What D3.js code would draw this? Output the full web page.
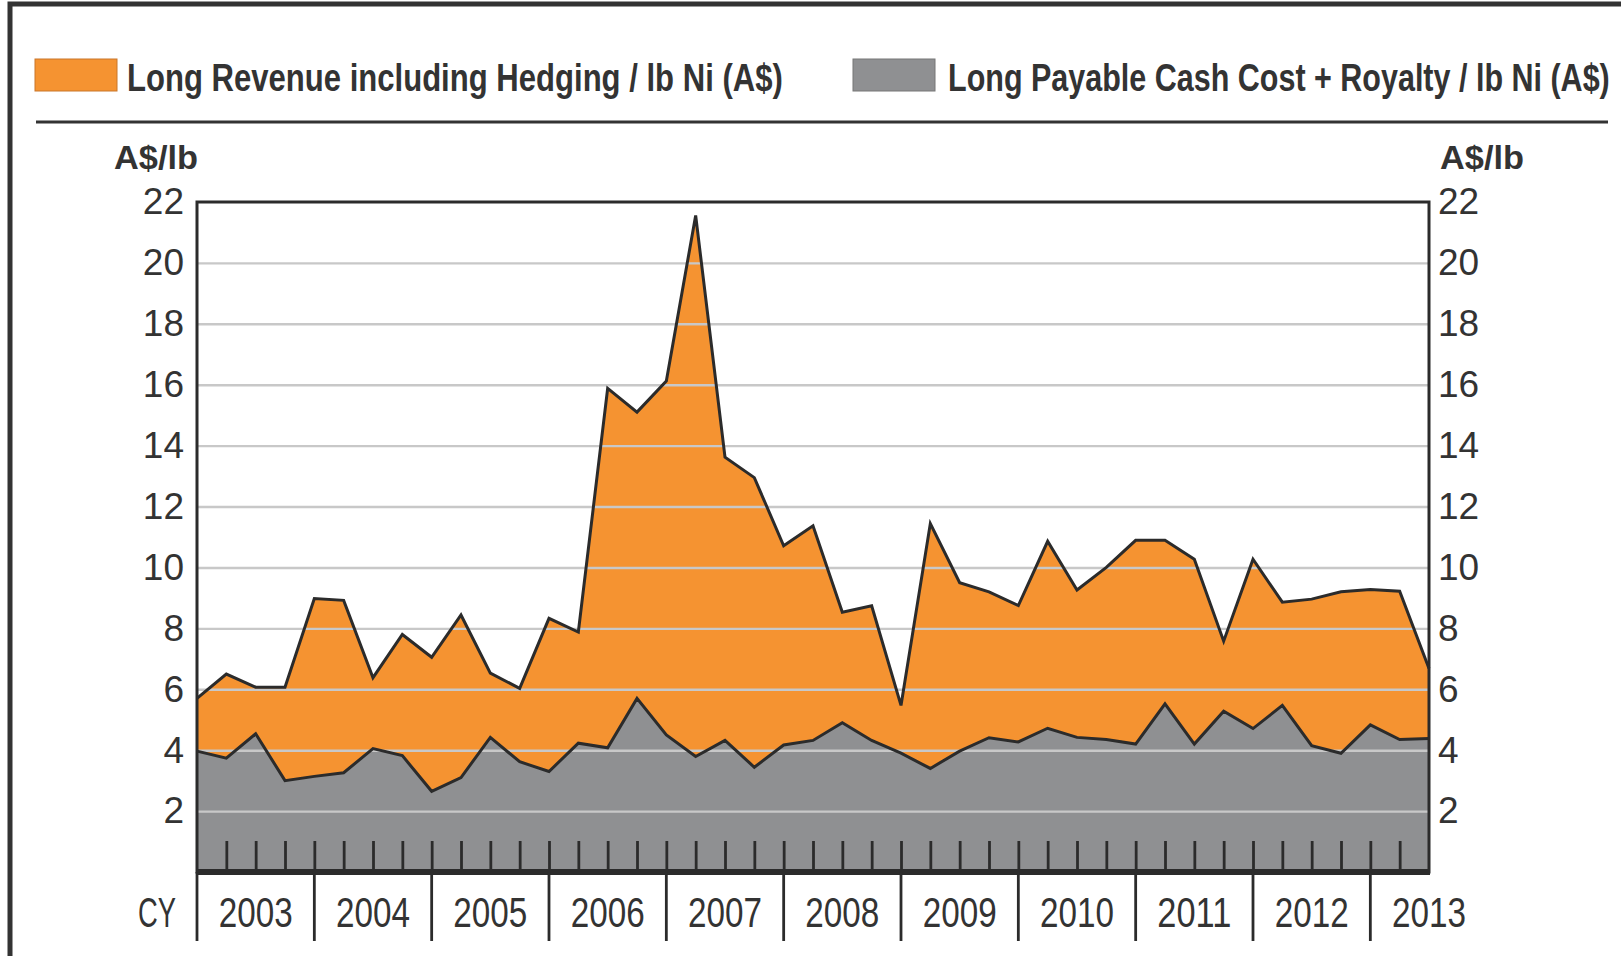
<!DOCTYPE html>
<html lang="en">
<head>
    <meta charset="UTF-8">
    <title>Long Revenue vs Cash Cost</title>
    <style>
        body { margin: 0; background: #fff; }
        svg { display: block; }
        .tick-num { font-family: "Liberation Sans", Arial, sans-serif; font-size: 37px; fill: #333; }
        .narrow { font-family: "Liberation Sans Narrow", "Liberation Sans", Arial, sans-serif; }
    </style>
    <script src="https://cdnjs.cloudflare.com/ajax/libs/d3/7.8.5/d3.min.js"></script>
</head>
<body>
    <div id="chart"></div>
    <script>
        // quarterly points, CY2003 Q1 .. CY2013 mid-year
        const years = ['2003', '2004', '2005', '2006', '2007', '2008', '2009', '2010', '2011', '2012', '2013'];
        const revenue = [
            5.7, 6.5, 6.07, 6.07, 8.98, 8.92, 6.38, 7.8, 7.05, 8.44,
            6.53, 6.03, 8.33, 7.88, 15.88, 15.1, 16.12, 21.56, 13.62, 12.95,
            10.71, 11.37, 8.53, 8.74, 5.47, 11.44, 9.5, 9.2, 8.75, 10.86,
            9.26, 10.0, 10.89, 10.89, 10.27, 7.58, 10.27, 8.86, 8.96, 9.2,
            9.28, 9.22, 6.68
        ];
        const cost = [
            3.97, 3.74, 4.54, 3.0, 3.14, 3.26, 4.05, 3.82, 2.65, 3.1,
            4.42, 3.62, 3.3, 4.23, 4.08, 5.7, 4.5, 3.79, 4.32, 3.44,
            4.17, 4.32, 4.9, 4.32, 3.9, 3.4, 3.97, 4.41, 4.27, 4.72,
            4.42, 4.35, 4.2, 5.52, 4.2, 5.28, 4.71, 5.47, 4.15, 3.9,
            4.83, 4.35, 4.38
        ];
        const yTicks = [2, 4, 6, 8, 10, 12, 14, 16, 18, 20, 22];
        const legendLabels = [
            'Long Revenue including Hedging / lb Ni (A$)',
            'Long Payable Cash Cost + Royalty / lb Ni (A$)'
        ];

        const width = 1621;
        const height = 956;
        const plot = { left: 197, right: 1429, top: 202, bottom: 872 };
        const orange = '#f59331';
        const grey = '#8f9092';
        const ink = '#2b2b2b';

        const svg = d3.select('#chart')
            .append('svg')
            .attr('width', width)
            .attr('height', height);

        svg.append('rect').attr('width', width).attr('height', height).attr('fill', '#fff');

        // outer frame (only top + left are inside the picture)
        svg.append('rect')
            .attr('x', 10).attr('y', 4)
            .attr('width', width + 20).attr('height', height + 20)
            .attr('fill', 'none').attr('stroke', '#333').attr('stroke-width', 5);

        // condensed text: squeeze a normal font horizontally to a given width
        function narrowText(parent, str, px, py, size, w, opts = {}) {
            const g = parent.append('g');
            const t = g.append('text')
                .attr('class', 'narrow')
                .attr('dy', '0.36em')
                .attr('font-size', size)
                .attr('font-weight', opts.bold ? 'bold' : 'normal')
                .attr('fill', '#333')
                .text(str);
            const k = w / t.node().getComputedTextLength();
            const left = opts.center ? px - w / 2 : px;
            g.attr('transform', `translate(${left},${py}) scale(${k},1)`);
            return g;
        }

        const x = d3.scaleLinear()
            .domain([0, revenue.length - 1])
            .range([plot.left, plot.right]);

        const y = d3.scaleLinear()
            .domain([0, 22])
            .range([plot.bottom, plot.top]);

        // legend
        const legend = svg.append('g');
        const legendPos = [{ x: 35, tx: 127, w: 656 }, { x: 853, tx: 948, w: 662 }];
        legendLabels.forEach((label, i) => {
            legend.append('rect')
                .attr('x', legendPos[i].x).attr('y', 59)
                .attr('width', 82).attr('height', 32)
                .attr('fill', i === 0 ? orange : grey)
                .attr('stroke', i === 0 ? '#c9762a' : '#777').attr('stroke-width', 1);
            narrowText(legend, label, legendPos[i].tx, 77, 39, legendPos[i].w, { bold: true });
        });
        svg.append('line')
            .attr('x1', 36).attr('x2', 1608).attr('y1', 122).attr('y2', 122)
            .attr('stroke', '#333').attr('stroke-width', 3);

        // unit labels
        [114, 1440].forEach(ux => narrowText(svg, 'A$/lb', ux, 157, 34, 84, { bold: true }));

        // areas
        const areaGen = d3.area()
            .x((d, i) => x(i))
            .y0(y(0))
            .y1(d => y(d));
        const lineGen = d3.line()
            .x((d, i) => x(i))
            .y(d => y(d));

        svg.append('path').datum(revenue).attr('d', areaGen).attr('fill', orange);
        svg.append('path').datum(cost).attr('d', areaGen).attr('fill', grey);

        // gridlines
        svg.append('g')
            .attr('transform', `translate(${plot.left},0)`)
            .call(d3.axisLeft(y).tickValues(yTicks.slice(0, -1)).tickSize(-(plot.right - plot.left)).tickFormat(''))
            .call(g => g.select('.domain').remove())
            .call(g => g.selectAll('line').attr('stroke', '#c8c8c8').attr('stroke-width', 2.4));

        svg.append('path').datum(revenue).attr('d', lineGen)
            .attr('fill', 'none').attr('stroke', ink).attr('stroke-width', 3);
        svg.append('path').datum(cost).attr('d', lineGen)
            .attr('fill', 'none').attr('stroke', ink).attr('stroke-width', 3);

        // quarter ticks inside plot
        svg.append('g')
            .attr('transform', `translate(0,${plot.bottom})`)
            .call(d3.axisTop(x).tickValues(d3.range(1, revenue.length - 1)).tickSize(31).tickFormat(''))
            .call(g => g.select('.domain').remove())
            .call(g => g.selectAll('line').attr('stroke', ink).attr('stroke-width', 2.8));

        // plot frame
        svg.append('rect')
            .attr('x', plot.left).attr('y', plot.top)
            .attr('width', plot.right - plot.left).attr('height', plot.bottom - plot.top)
            .attr('fill', 'none').attr('stroke', ink).attr('stroke-width', 3);
        svg.append('line')
            .attr('x1', plot.left - 1).attr('x2', plot.right + 1)
            .attr('y1', plot.bottom).attr('y2', plot.bottom)
            .attr('stroke', ink).attr('stroke-width', 6);

        // y tick labels both sides
        svg.append('g')
            .attr('transform', `translate(${plot.left},0)`)
            .call(d3.axisLeft(y).tickValues(yTicks).tickSize(0).tickPadding(13))
            .call(g => g.select('.domain').remove())
            .call(g => g.selectAll('text').attr('class', 'tick-num').attr('font-size', null).attr('font-family', null).attr('fill', null));
        svg.append('g')
            .attr('transform', `translate(${plot.right},0)`)
            .call(d3.axisRight(y).tickValues(yTicks).tickSize(0).tickPadding(9))
            .call(g => g.select('.domain').remove())
            .call(g => g.selectAll('text').attr('class', 'tick-num').attr('font-size', null).attr('font-family', null).attr('fill', null));

        // year separators and labels
        const yearStart = years.map((yr, i) => i * 4);
        svg.append('g')
            .selectAll('line')
            .data(yearStart)
            .enter()
            .append('line')
            .attr('x1', d => x(d)).attr('x2', d => x(d))
            .attr('y1', plot.bottom).attr('y2', 941)
            .attr('stroke', ink).attr('stroke-width', 2.8);

        const yearLabels = svg.append('g');
        years.forEach((yr, i) => narrowText(yearLabels, yr, x(i * 4 + 2), 912, 42, 74, { center: true }));
        narrowText(svg, 'CY', 157, 912, 42, 38, { center: true });
    </script>
</body>
</html>
